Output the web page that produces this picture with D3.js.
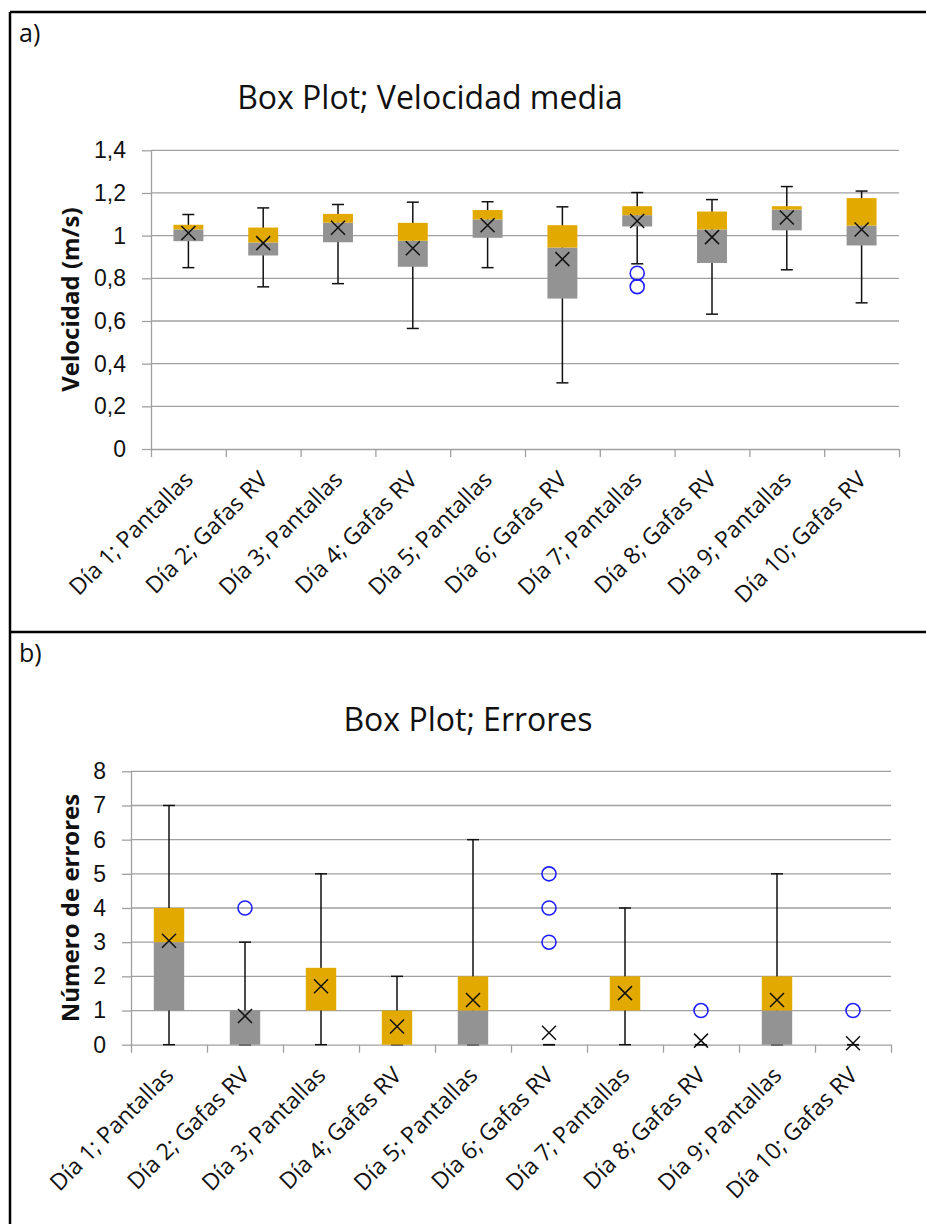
<!DOCTYPE html>
<html>
<head>
<meta charset="utf-8">
<script src="https://cdn.jsdelivr.net/npm/d3@7"></script>
<style>
  html, body { margin: 0; padding: 0; background: #fff; }
  svg { display: block; font-family: "Open Sans", "Noto Sans", sans-serif; }
  .grid line { stroke: #a0a0a0; stroke-width: 1.3; }
  .ax path, .ax line { stroke: #a0a0a0; stroke-width: 1.3; }
  .ax text { fill: #111; font-size: 23px; }
</style>
</head>
<body>
<svg id="fig" width="926" height="1224"></svg>
<script>
// Two stacked Excel-style box plots (a: mean speed, b: error count).
// Values.

const categories = [
  "Día 1; Pantallas", "Día 2; Gafas RV", "Día 3; Pantallas", "Día 4; Gafas RV",
  "Día 5; Pantallas", "Día 6; Gafas RV", "Día 7; Pantallas", "Día 8; Gafas RV",
  "Día 9; Pantallas", "Día 10; Gafas RV"
];

// ---- panel a: Velocidad media (m/s) ----
const velLow      = [0.85, 0.76, 0.775, 0.565, 0.85, 0.31, 0.868, 0.632, 0.84, 0.685];
const velQ1       = [0.974, 0.907, 0.969, 0.854, 0.99, 0.705, 1.043, 0.872, 1.025, 0.954];
const velMedian   = [1.029, 0.968, 1.061, 0.976, 1.076, 0.944, 1.096, 1.029, 1.122, 1.047];
const velQ3       = [1.051, 1.038, 1.102, 1.06, 1.12, 1.049, 1.138, 1.113, 1.138, 1.176];
const velHigh     = [1.099, 1.13, 1.146, 1.157, 1.159, 1.135, 1.202, 1.169, 1.23, 1.209];
const velMean     = [1.012, 0.965, 1.037, 0.941, 1.049, 0.89, 1.069, 0.993, 1.085, 1.029];
const velOutliers = [[], [], [], [], [], [], [0.824, 0.761], [], [], []];
const velTicks    = [0, 0.2, 0.4, 0.6, 0.8, 1, 1.2, 1.4];

// ---- panel b: Número de errores ----
const errLow      = [0, 0, 0, 0, 0, 0, 0, 0, 0, 0];
const errQ1       = [1, 0, 1, 0, 0, 0, 1, 0, 0, 0];
const errMedian   = [3, 1, 1, 0, 1, 0, 1, 0, 1, 0];
const errQ3       = [4, 1, 2.25, 1, 2, 0, 2, 0, 2, 0];
const errHigh     = [7, 3, 5, 2, 6, 0, 4, 0, 5, 0];
const errMean     = [3.04, 0.84, 1.71, 0.53, 1.31, 0.35, 1.51, 0.12, 1.31, 0.04];
const errOutliers = [[], [4], [], [], [], [5, 4, 3], [], [1], [], [1]];
const errTicks    = [0, 1, 2, 3, 4, 5, 6, 7, 8];

const ORANGE = "#e2aa00", GREY = "#939393", BLUE = "#1f1fff";

const svg = d3.select("#fig");
const esLocale = d3.formatLocale({ decimal: ",", thousands: ".", grouping: [3], currency: ["", " €"] });
const fmtTick = (v) => esLocale.format("~g")(v);

// Frame lines of the composite figure
svg.append("g").attr("stroke", "#000").attr("stroke-width", 2.5)
  .selectAll("line")
  .data([[10, 12, 10, 1224], [10, 12, 926, 12], [10, 632, 926, 632]])
  .join("line")
  .attr("x1", (d) => d[0]).attr("y1", (d) => d[1])
  .attr("x2", (d) => d[2]).attr("y2", (d) => d[3]);

function boxPanel(o) {
  const n = categories.length;
  const g = svg.append("g");
  const y = d3.scaleLinear().domain([0, d3.max(o.ticks)]).range([o.bottom, o.top]);
  const xEdge = d3.scaleLinear().domain([0, n]).range([o.left, o.right]);
  const x = d3.scaleBand().domain(categories).range([o.left, o.right]).padding(0);
  const bw = x.bandwidth() * 0.4;
  const cx = (i) => x(categories[i]) + x.bandwidth() / 2;

  // panel letter + title
  g.append("text").attr("x", 19).attr("y", o.letterY)
    .attr("font-size", 25).attr("fill", "#111").text(o.letter);
  g.append("text").attr("x", o.titleX).attr("y", o.titleY)
    .attr("text-anchor", "middle").attr("font-size", 32).attr("fill", "#111").text(o.title);

  // horizontal gridlines
  g.append("g").attr("class", "grid").selectAll("line")
    .data(o.ticks.filter((t) => t > 0)).join("line")
    .attr("x1", o.left).attr("x2", o.right)
    .attr("y1", (t) => y(t)).attr("y2", (t) => y(t));

  // y axis
  g.append("g").attr("class", "ax").attr("transform", `translate(${o.left},0)`)
    .call(d3.axisLeft(y).tickValues(o.ticks).tickFormat(fmtTick).tickSize(9).tickSizeOuter(0).tickPadding(16));

  // x axis (ticks at category boundaries, labels rotated under each centre)
  g.append("g").attr("class", "ax").attr("transform", `translate(0,${o.bottom})`)
    .call(d3.axisBottom(xEdge).tickValues(d3.range(n + 1)).tickFormat("").tickSize(8).tickSizeOuter(0));
  g.append("g").selectAll("text").data(categories).join("text")
    .attr("transform", (d, i) => `translate(${cx(i) + 6},${o.bottom + 32}) rotate(-45)`)
    .attr("text-anchor", "end").attr("font-size", 23).attr("fill", "#111").text((d) => d);

  // y-axis title
  g.append("text")
    .attr("transform", `translate(79,${(o.top + o.bottom) / 2}) rotate(-90)`)
    .attr("text-anchor", "middle").attr("font-size", 24).attr("font-weight", "bold")
    .attr("fill", "#111").text(o.yLabel);

  const idx = d3.range(n);
  const marks = g.append("g");

  // whiskers + caps
  marks.selectAll(".wh").data(idx).join("line").attr("class", "wh")
    .attr("x1", cx).attr("x2", cx)
    .attr("y1", (i) => y(o.low[i])).attr("y2", (i) => y(o.high[i]))
    .attr("stroke", "#111").attr("stroke-width", 1.5);
  marks.selectAll(".cap").data(idx.flatMap((i) => [[i, o.low[i]], [i, o.high[i]]])).join("line")
    .attr("class", "cap")
    .attr("x1", (d) => cx(d[0]) - 6).attr("x2", (d) => cx(d[0]) + 6)
    .attr("y1", (d) => y(d[1])).attr("y2", (d) => y(d[1]))
    .attr("stroke", "#111").attr("stroke-width", 1.5);

  // lower box (Q1..median) grey, upper box (median..Q3) orange
  marks.selectAll(".lo").data(idx).join("rect").attr("class", "lo")
    .attr("x", (i) => cx(i) - bw / 2).attr("width", bw)
    .attr("y", (i) => y(o.median[i])).attr("height", (i) => y(o.q1[i]) - y(o.median[i]))
    .attr("fill", GREY);
  marks.selectAll(".hi").data(idx).join("rect").attr("class", "hi")
    .attr("x", (i) => cx(i) - bw / 2).attr("width", bw)
    .attr("y", (i) => y(o.q3[i])).attr("height", (i) => y(o.median[i]) - y(o.q3[i]))
    .attr("fill", ORANGE);

  // mean markers (x)
  const s = 7;
  marks.selectAll(".mean").data(idx).join("path").attr("class", "mean")
    .attr("d", (i) => {
      const px = cx(i), py = y(o.mean[i]);
      return `M${px - s},${py - s}L${px + s},${py + s}M${px - s},${py + s}L${px + s},${py - s}`;
    })
    .attr("stroke", "#111").attr("stroke-width", 1.5).attr("fill", "none");

  // outliers
  marks.selectAll(".out").data(idx.flatMap((i) => o.outliers[i].map((v) => [i, v]))).join("circle")
    .attr("class", "out")
    .attr("cx", (d) => cx(d[0])).attr("cy", (d) => y(d[1])).attr("r", 7)
    .attr("fill", "none").attr("stroke", BLUE).attr("stroke-width", 1.6);
}

boxPanel({
  letter: "a)", letterY: 42, title: "Box Plot; Velocidad media", titleX: 430, titleY: 109,
  yLabel: "Velocidad (m/s)", ticks: velTicks,
  left: 151, right: 899, top: 150.3, bottom: 449,
  low: velLow, q1: velQ1, median: velMedian, q3: velQ3, high: velHigh,
  mean: velMean, outliers: velOutliers
});

boxPanel({
  letter: "b)", letterY: 662, title: "Box Plot; Errores", titleX: 468, titleY: 731,
  yLabel: "Número de errores", ticks: errTicks,
  left: 131, right: 891, top: 771.3, bottom: 1044.7,
  low: errLow, q1: errQ1, median: errMedian, q3: errQ3, high: errHigh,
  mean: errMean, outliers: errOutliers
});
</script>
</body>
</html>
